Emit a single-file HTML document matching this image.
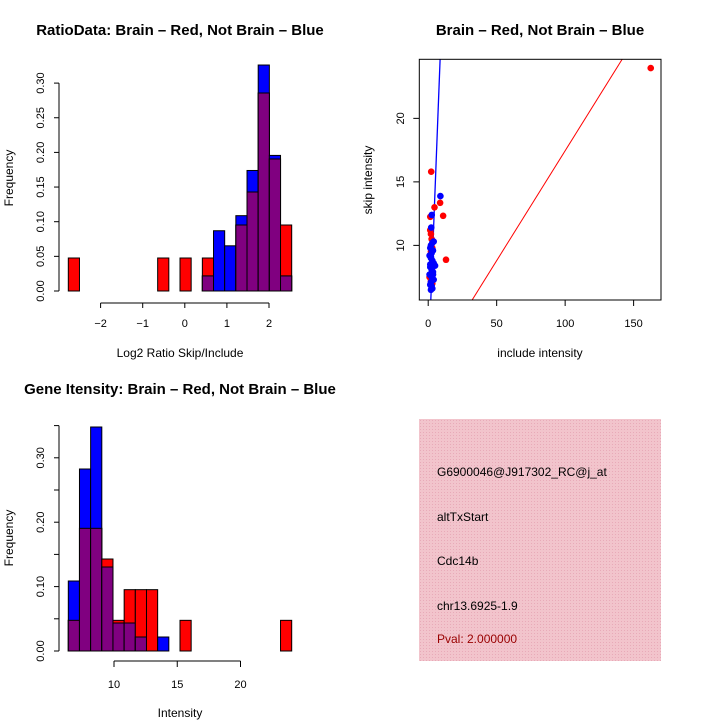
<!DOCTYPE html>
<html><head><meta charset="utf-8"><style>
body{margin:0;background:#fff}
svg{display:block;font-family:"Liberation Sans",sans-serif}
</style></head><body>
<svg id="fig" width="720" height="720" viewBox="0 0 720 720">
<defs>
<pattern id="hatch" width="3" height="3" patternUnits="userSpaceOnUse">
<rect width="3" height="3" fill="#f2c4cc"/><rect width="1" height="1" fill="#e8aab8"/>
</pattern>
</defs>
<g id="p1"></g>
<g id="p2"></g>
<g id="p3"></g>
<g>
<rect x="419" y="419" width="242" height="242" fill="url(#hatch)"/>
<text x="437" y="476" font-size="12">G6900046@J917302_RC@j_at</text>
<text x="437" y="521" font-size="12">altTxStart</text>
<text x="437" y="565" font-size="12">Cdc14b</text>
<text x="437" y="610" font-size="12">chr13.6925-1.9</text>
<text x="437" y="643" font-size="12" fill="#990000">Pval: 2.000000</text>
</g>
</svg>
<script>
// Plot 1 data: counts per bin (20 bins)
const ratioRedCounts=[1,0,0,0,0,0,0,0,1,0,1,0,1,0,0,2,3,6,4,2];
const ratioBlueCounts=[0,0,0,0,0,0,0,0,0,0,0,0,1,4,3,5,8,15,9,1];
const ratioTicks=[-2,-1,0,1,2];
const freqTicks1=["0.00","0.05","0.10","0.15","0.20","0.25","0.30"];
// Plot 3 data
const intRedCounts=[1,4,4,3,1,2,2,2,0,0,1,0,0,0,0,0,0,0,0,1];
const intBlueCounts=[5,13,16,6,2,2,1,0,1,0,0,0,0,0,0,0,0,0,0,0];
const intTicks=[10,15,20];
const freqTicks3=["0.00","0.10","0.20","0.30"];
// Scatter data
const redX=[2.2,4.6,8.7,10.9,1.5,13,2,2.5,1,3,2,3,1.5,162.5,2,3];
const redY=[15.8,13.0,13.35,12.33,12.25,8.87,10.9,10.5,7.5,7.0,9.5,8.0,11.2,23.96,7.2,9.8];
const blueX=[8.9,2.6,2.2,4,3,2,1.5,3.5,2.5,1,2,3,4,5,1.5,2.5,3.5,1,2,3,4,2,1.5,2.5,3,2,1.5,3.5,2];
const blueY=[13.88,12.4,11.4,10.3,10.2,10.0,9.8,9.6,9.4,9.2,9.0,8.8,8.6,8.4,8.3,8.1,7.9,7.7,7.6,7.4,7.3,7.1,6.9,6.8,6.6,6.5,8.5,7.7,9.1];
const redLine=[0.15,0.173];
const blueLine=[0.4,2.79];
const axisRangeX=[-6.5,170], axisRangeY=[5.7,24.65];

const NS="http://www.w3.org/2000/svg";
function mk(parent,tag,attrs,text){const e=document.createElementNS(NS,tag);for(const k in attrs)e.setAttribute(k,attrs[k]);if(text!==undefined)e.textContent=text;parent.appendChild(e);return e;}

function hist(gid,red,blue,nRed,nBlue,x0,bw,baseY,pxPerUnit){
  const g=document.getElementById(gid);
  const yS=v=>baseY-v*pxPerUnit;
  for(let i=0;i<red.length;i++){
    const fr=red[i]/nRed, fb=blue[i]/nBlue;
    const x=x0+i*bw;
    if(fr>0){const r=mk(g,'rect',{x:x,y:yS(fr),width:bw,height:fr*pxPerUnit,fill:'#ff0000',stroke:'#000','stroke-width':1});
      
      }
    if(fb>0){const b=mk(g,'rect',{x:x,y:yS(fb),width:bw,height:fb*pxPerUnit,fill:'#0000ff',stroke:'#000','stroke-width':1});
      
      }
    const m=Math.min(fr,fb);
    if(m>0){const p=mk(g,'rect',{x:x,y:yS(m),width:bw,height:m*pxPerUnit,fill:'#800080',stroke:'#000','stroke-width':1});
      
      }
  }
  return yS;
}
const sum=a=>a.reduce((s,v)=>s+v,0);

// Plot 1
(function(){
  const g=document.getElementById('p1');
  const xS=v=>184.8+v*42.1;
  const bw=(291.7-68.3)/20;
  const yS=hist('p1',ratioRedCounts,ratioBlueCounts,sum(ratioRedCounts),sum(ratioBlueCounts),68.3,bw,291,693);
  mk(g,'line',{x1:xS(-2),x2:xS(2),y1:303,y2:303,stroke:'#000'});
  ratioTicks.forEach(t=>{mk(g,'line',{x1:xS(t),x2:xS(t),y1:303,y2:308,stroke:'#000'});
    const l=mk(g,'text',{x:xS(t),y:327,'font-size':11,'text-anchor':'middle'},t<0?'\u2212'+(-t):String(t));
    
    });
  mk(g,'line',{x1:59,x2:59,y1:yS(0),y2:yS(0.3),stroke:'#000'});
  freqTicks1.forEach(t=>{const y=yS(parseFloat(t));mk(g,'line',{x1:54,x2:59,y1:y,y2:y,stroke:'#000'});
    const l=mk(g,'text',{x:0,y:0,'font-size':11,'text-anchor':'middle',transform:`translate(44,${y}) rotate(-90)`},t);
    
    });
  const xl=mk(g,'text',{x:180,y:357,'font-size':12,'text-anchor':'middle'},'Log2 Ratio Skip/Include');
  
  
  const yl=mk(g,'text',{x:0,y:0,'font-size':12,'text-anchor':'middle',transform:'translate(13,178) rotate(-90)'},'Frequency');
  
  
  const tt=mk(g,'text',{x:180,y:35,'font-size':15,'font-weight':'bold','text-anchor':'middle'},'RatioData: Brain \u2013 Red, Not Brain \u2013 Blue');
  
  
})();

// Plot 3
(function(){
  const g=document.getElementById('p3');
  const xS=v=>114+(v-10)*12.65;
  const bw=(291.7-68.3)/20;
  const yS=hist('p3',intRedCounts,intBlueCounts,sum(intRedCounts),sum(intBlueCounts),68.3,bw,651,644);
  mk(g,'line',{x1:xS(10),x2:xS(20),y1:661,y2:661,stroke:'#000'});
  intTicks.forEach(t=>{mk(g,'line',{x1:xS(t),x2:xS(t),y1:661,y2:667,stroke:'#000'});
    const l=mk(g,'text',{x:xS(t),y:688,'font-size':11,'text-anchor':'middle'},String(t));
    
    });
  mk(g,'line',{x1:59,x2:59,y1:yS(0),y2:yS(0.35),stroke:'#000'});
  [0,0.05,0.1,0.15,0.2,0.25,0.3,0.35].forEach(v=>{const y=yS(v);mk(g,'line',{x1:54,x2:59,y1:y,y2:y,stroke:'#000'});});
  freqTicks3.forEach(t=>{const y=yS(parseFloat(t));
    const l=mk(g,'text',{x:0,y:0,'font-size':11,'text-anchor':'middle',transform:`translate(44,${y}) rotate(-90)`},t);
    
    });
  const xl=mk(g,'text',{x:180,y:717,'font-size':12,'text-anchor':'middle'},'Intensity');
  
  
  const yl=mk(g,'text',{x:0,y:0,'font-size':12,'text-anchor':'middle',transform:'translate(13,538) rotate(-90)'},'Frequency');
  
  
  const tt=mk(g,'text',{x:180,y:394,'font-size':15,'font-weight':'bold','text-anchor':'middle'},'Gene Itensity: Brain \u2013 Red, Not Brain \u2013 Blue');
  
  
})();

// Plot 2 scatter
(function(){
  const g=document.getElementById('p2');
  const L=419.3,R=661,T=59.3,B=300;
  const xS=v=>L+(v-axisRangeX[0])/(axisRangeX[1]-axisRangeX[0])*(R-L);
  const yS=v=>B-(v-axisRangeY[0])/(axisRangeY[1]-axisRangeY[0])*(B-T);
  mk(g,'clipPath',{id:'clip2'});
  mk(document.getElementById('clip2'),'rect',{x:L,y:T,width:R-L,height:B-T});
  const pl=mk(g,'g',{'clip-path':'url(#clip2)'});
  const rl=mk(pl,'line',{x1:xS(0),y1:yS(redLine[0]),x2:xS(170),y2:yS(redLine[0]+redLine[1]*170),stroke:'#ff0000','stroke-width':1});
  
  
  const bl=mk(pl,'line',{x1:xS(0),y1:yS(blueLine[0]),x2:xS(10),y2:yS(blueLine[0]+blueLine[1]*10),stroke:'#0000ff','stroke-width':1.3});
  
  
  redX.forEach((x,i)=>{const c=mk(pl,'circle',{cx:xS(x),cy:yS(redY[i]),r:3.3,fill:'#ff0000'});
    
    });
  blueX.forEach((x,i)=>{const c=mk(pl,'circle',{cx:xS(x),cy:yS(blueY[i]),r:3.3,fill:'#0000ff'});
    
    });
  mk(g,'rect',{x:L,y:T,width:R-L,height:B-T,fill:'none',stroke:'#000'});
  [0,50,100,150].forEach(t=>{mk(g,'line',{x1:xS(t),x2:xS(t),y1:B,y2:B+6,stroke:'#000'});
    const l=mk(g,'text',{x:xS(t),y:327,'font-size':11,'text-anchor':'middle'},String(t));
    
    });
  [10,15,20].forEach(t=>{mk(g,'line',{x1:L-6,x2:L,y1:yS(t),y2:yS(t),stroke:'#000'});
    const l=mk(g,'text',{x:0,y:0,'font-size':11,'text-anchor':'middle',transform:`translate(404,${yS(t)}) rotate(-90)`},String(t));
    
    });
  const xl=mk(g,'text',{x:540,y:357,'font-size':12,'text-anchor':'middle'},'include intensity');
  
  
  const yl=mk(g,'text',{x:0,y:0,'font-size':12,'text-anchor':'middle',transform:'translate(372,180) rotate(-90)'},'skip intensity');
  
  
  const tt=mk(g,'text',{x:540,y:35,'font-size':15,'font-weight':'bold','text-anchor':'middle'},'Brain \u2013 Red, Not Brain \u2013 Blue');
  
  
})();
</script>
</body></html>
